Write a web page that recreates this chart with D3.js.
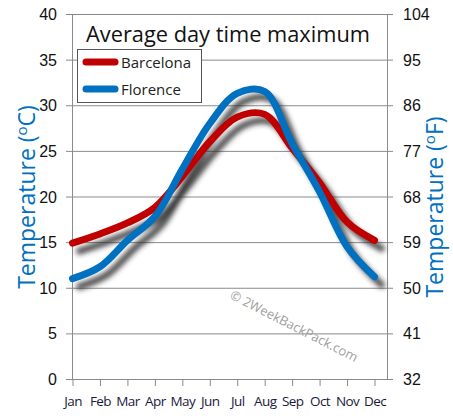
<!DOCTYPE html>
<html><head><meta charset="utf-8">
<script src="https://cdn.jsdelivr.net/npm/d3@7"></script>
<style>
html,body{margin:0;padding:0;background:#fff;}
svg{display:block;font-family:"Open Sans",sans-serif;}
</style></head>
<body>
<svg id="c" width="453" height="420"></svg>
<script>
const months = ["Jan","Feb","Mar","Apr","May","Jun","Jul","Aug","Sep","Oct","Nov","Dec"];
const barcelona = [14.9,15.9,17.1,18.8,22.2,26.0,28.7,29.0,25.3,21.5,17.2,15.2];
const florence  = [11.0,12.3,15.2,17.8,23.0,28.0,31.3,31.5,25.8,20.5,14.5,11.2];
const seriesNames = ["Barcelona","Florence"];
const seriesColors = ["#c00000","#0070c0"];
const celsiusTicks = [0,5,10,15,20,25,30,35,40];
const fahrenheitTicks = [32,41,50,59,68,77,86,95,104];
const titleText = "Average day time maximum";

const svg = d3.select("#c");
const L = 72.5, R = 387.5, T = 14, B = 379;
const x = d3.scalePoint().domain(months).range([L, 374.5]);
const y = d3.scaleLinear().domain([0,40]).range([B, T]);
const yF = d3.scaleLinear().domain([32,104]).range([B, T]);

const defs = svg.append("defs");
const f = defs.append("filter").attr("id","blur").attr("x","-10%").attr("y","-10%").attr("width","120%").attr("height","120%");
f.append("feGaussianBlur").attr("stdDeviation",2.8);

// gridlines
const grid = svg.append("g").attr("transform",`translate(66,0)`)
  .call(d3.axisRight(y).tickValues(celsiusTicks).tickSize(327).tickFormat(""));
grid.select(".domain").remove();
grid.selectAll("line").attr("stroke","#8a8a8a").attr("stroke-width",1);

// vertical axis lines
svg.append("line").attr("x1",L).attr("x2",L).attr("y1",T).attr("y2",B).attr("stroke","#8a8a8a");
svg.append("line").attr("x1",R).attr("x2",R).attr("y1",T).attr("y2",B).attr("stroke","#8a8a8a");

// x axis
const xa = svg.append("g").attr("transform",`translate(0,${B})`)
  .call(d3.axisBottom(x).tickSize(7).tickPadding(10));
xa.select(".domain").remove();
xa.selectAll("line").attr("stroke","#8a8a8a");
xa.selectAll("text").attr("font-size",13.5).attr("fill","#1a1a3a").attr("font-family","Open Sans").attr("letter-spacing","-0.6");

// left labels
const la = svg.append("g").attr("transform",`translate(57,0)`)
  .call(d3.axisLeft(y).tickValues(celsiusTicks).tickSize(0).tickPadding(0));
la.select(".domain").remove();
la.selectAll("text").attr("font-size",16).attr("fill","#111").attr("dy","0.35em");

// right labels
const ra = svg.append("g").attr("transform",`translate(403,0)`)
  .call(d3.axisRight(yF).tickValues(fahrenheitTicks).tickSize(0).tickPadding(0));
ra.select(".domain").remove();
ra.selectAll("text").attr("font-size",16).attr("fill","#111").attr("dy","0.35em");

// axis titles
const lt = svg.append("text").attr("transform","translate(35,197) rotate(-90)")
  .attr("text-anchor","middle").attr("font-size",23).attr("fill","#0070c0");
lt.append("tspan").text("Temperature  (");
lt.append("tspan").attr("font-size",15).attr("dy",-8).text("o");
lt.append("tspan").attr("dy",8).text("C)");
const rt = svg.append("text").attr("transform","translate(443,207) rotate(-90)")
  .attr("text-anchor","middle").attr("font-size",23).attr("fill","#0070c0");
rt.append("tspan").text("Temperature  (");
rt.append("tspan").attr("font-size",15).attr("dy",-8).text("o");
rt.append("tspan").attr("dy",8).text("F)");

// watermark
svg.append("text").attr("transform","translate(229,298) rotate(27)")
  .attr("font-size",13).attr("fill","#a0a0a0").text("© 2WeekBackPack.com");

// title
svg.append("text").attr("x",228).attr("y",42).attr("text-anchor","middle")
  .attr("font-size",21.8).attr("fill","#111").text(titleText);

// lines
const data = [barcelona, florence];
const line = d3.line().x((d,i)=>x(months[i])).y(d=>y(d)).curve(d3.curveCatmullRom.alpha(0.5));
const sh = svg.append("g").attr("transform","translate(7,8)").attr("filter","url(#blur)");
data.forEach(s=>{
  sh.append("path").attr("d",line(s)).attr("fill","none").attr("stroke","#2a2a2a")
    .attr("stroke-width",7).attr("stroke-opacity",0.8).attr("stroke-linecap","round");
});
data.forEach((s,i)=>{
  svg.append("path").attr("d",line(s)).attr("fill","none").attr("stroke",seriesColors[i])
    .attr("stroke-width",7).attr("stroke-linecap","round").attr("stroke-linejoin","round");
});

// legend
const lg = svg.append("g");
lg.append("rect").attr("x",77.5).attr("y",49.5).attr("width",124).attr("height",53)
  .attr("fill","#fff").attr("stroke","#555");
seriesNames.forEach((n,i)=>{
  const yy = 62 + i*27;
  lg.append("line").attr("x1",86).attr("x2",115).attr("y1",yy).attr("y2",yy)
    .attr("stroke",seriesColors[i]).attr("stroke-width",7).attr("stroke-linecap","round");
  lg.append("text").attr("x",121).attr("y",yy+6).attr("font-size",15).attr("fill","#222").text(n);
});
</script>
</body></html>
